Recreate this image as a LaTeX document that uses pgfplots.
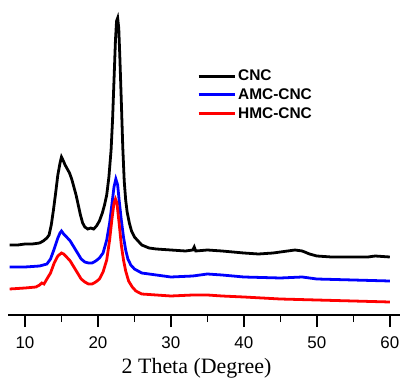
\documentclass[border=0pt]{standalone}
\usepackage{fontspec}
\setmainfont{Liberation Sans}
\newfontfamily\seriffont{Liberation Serif}
\usepackage{pgfplots}
\pgfplotsset{compat=1.18}
\definecolor{cblue}{RGB}{0,0,255}
\definecolor{cred}{RGB}{255,0,0}
\begin{document}
\begin{tikzpicture}
\begin{axis}[
  scale only axis,
  width=392bp, height=315bp,
  xmin=7.67, xmax=61.4,
  ymin=0, ymax=315,
  axis x line*=bottom,
  axis y line=none,
  x axis line style={line width=1.6pt},
  xtick={10,20,...,60},
  minor x tick num=1,
  tick align=outside,
  major tick length=12bp,
  minor tick length=7bp,
  every tick/.style={line width=1.6pt, black},
  /pgf/number format/assume math mode=true,
  xticklabel style={font=\fontsize{17}{17}\selectfont, yshift=-6bp},
  xlabel={\seriffont 2 Theta (Degree)},
  xlabel style={font=\fontsize{22}{22}\selectfont, at={(axis description cs:0.481,0)}, anchor=base, yshift=-58bp},
  clip=false,
  legend cell align=left,
  legend image code/.code={\draw[#1, line width=3pt] (0bp,0bp) -- (36bp,0bp);},
  legend style={draw=none, fill=none, at={(axis description cs:0.482,0.785)}, anchor=north west,
    font=\bfseries\fontsize{15.5}{15.5}\selectfont, inner sep=0pt, row sep=2.5bp},
]
\addplot[black, line width=2.8pt] coordinates {
(7.9,70)(9,70)(10,71)(11,71)(12,72)(12.5,74)(13,77)(13.3,80)(13.6,90)(13.9,105)(14.2,122)(14.5,140)(14.8,152)(15.0,158)(15.2,155)(15.5,150)(15.8,146)(16.1,142)(16.4,136)(16.7,128)(17.0,120)(17.3,110)(17.6,100)(17.9,92)(18.2,88)(18.6,86)(19.0,87)(19.4,86)(19.8,89)(20.2,94)(20.6,102)(20.9,110)(21.2,120)(21.5,138)(21.8,165)(22.0,195)(22.2,235)(22.4,275)(22.55,294)(22.7,297)(22.85,287)(23.0,258)(23.2,214)(23.4,168)(23.6,134)(23.8,115)(24.0,103)(24.3,92)(24.6,84)(25.0,78)(25.5,74)(26,70)(27,67)(28,66)(30,65)(32,64)(33,65)(33.2,68)(33.4,64)(35,65)(37,64)(40,62)(42,61)(44,62)(46,64)(47,65)(48,64)(49,61)(50,59)(52,58)(55,58)(57,58)(58,59)(60,58)
};
\addlegendentry{CNC}
\addplot[cblue, line width=2.8pt] coordinates {
(7.9,48)(10,48)(12,49)(13,51)(13.5,56)(14,66)(14.5,77)(14.8,82)(15.0,84)(15.3,81)(15.7,78)(16.2,74)(16.7,68)(17.2,62)(17.7,56)(18.2,53)(18.7,52)(19.2,52)(19.7,54)(20.2,57)(20.7,62)(21.2,75)(21.6,92)(21.9,110)(22.2,128)(22.45,136)(22.7,130)(22.9,115)(23.2,95)(23.5,78)(23.8,65)(24.1,56)(24.5,50)(25,46)(26,42)(28,40)(30,38)(33,39)(35,41)(37,40)(40,38)(45,37)(48,38)(50,36)(55,35)(60,34)
};
\addlegendentry{AMC-CNC}
\addplot[cred, line width=2.8pt] coordinates {
(7.9,26)(10,27)(11.5,28)(12,30)(12.3,32)(12.6,31)(13,36)(13.5,42)(14,52)(14.5,59)(15.0,62)(15.3,61)(15.7,58)(16.2,54)(16.7,48)(17.2,42)(17.7,36)(18.2,33)(18.7,31)(19.2,31)(19.7,33)(20.2,36)(20.7,43)(21.2,55)(21.6,75)(21.9,95)(22.2,112)(22.4,116)(22.6,112)(22.9,92)(23.2,70)(23.5,55)(23.8,44)(24.2,34)(24.7,28)(25.2,24)(26,21)(28,20)(30,19)(33,20)(35,20)(37,19)(40,18)(45,16)(50,15)(55,14)(60,13)
};
\addlegendentry{HMC-CNC}
\end{axis}
\path[use as bounding box] ([xshift=-8bp,yshift=-62bp]current axis.south west) rectangle ([xshift=3bp]current axis.north east);
\end{tikzpicture}
\end{document}
